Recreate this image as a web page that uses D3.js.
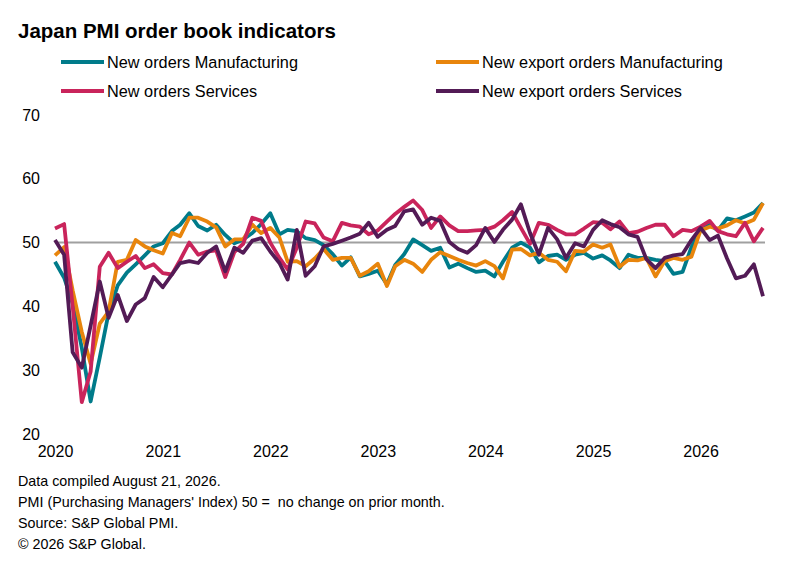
<!DOCTYPE html>
<html>
<head>
<meta charset="utf-8">
<script src="https://cdn.jsdelivr.net/npm/d3@7"></script>
<style>
  body { margin: 0; background: #fff; }
  text { font-family: "Liberation Sans", Arial, sans-serif; fill: #000; }
</style>
</head>
<body>
<div id="chart"></div>
<script>
// Monthly readings, Jan 2020 - Aug 2026
var newOrdersMfg = [
  47.0, 44.5, 40.5, 33.5, 25.1, 32.0, 39.0, 43.3, 45.3, 46.6, 48.0, 49.4,
  49.9, 51.8, 52.8, 54.6, 52.6, 51.9, 52.8, 51.2, 49.9, 50.5, 51.5, 52.9,
  54.6, 51.3, 52.0, 51.8, 50.7, 50.4, 49.6, 48.2, 46.4, 47.7, 44.7, 45.1,
  45.6, 43.5, 46.5, 48.2, 50.5, 49.6, 48.7, 49.2, 46.1, 46.7, 46.0, 45.4,
  45.6, 44.7, 47.0, 49.2, 50.0, 49.2, 46.9, 47.9, 48.1, 47.3, 48.1, 48.4,
  47.5, 48.0, 47.2, 46.0, 48.1, 47.6, 47.6, 47.3, 47.1, 45.1, 45.4, 49.3,
  52.0, 52.8, 51.9, 53.8, 53.5, 54.1, 54.7, 56.2
];
var newExportOrdersMfg = [
  48.0, 49.3, 42.5, 36.0, 31.0, 37.3, 39.2, 47.0, 47.3, 50.4, 49.4, 48.8,
  48.3, 51.5, 51.0, 53.9, 53.9, 53.3, 52.4, 49.4, 50.5, 50.5, 52.8, 51.5,
  52.3, 50.8, 47.0, 47.1, 46.3, 47.5, 49.0, 47.3, 47.6, 47.6, 44.8, 45.5,
  46.7, 43.2, 46.3, 47.3, 46.7, 45.4, 47.3, 48.5, 47.9, 47.3, 46.8, 46.4,
  47.1, 46.3, 44.4, 48.9, 49.0, 48.0, 48.4, 47.3, 47.0, 45.5, 48.7, 48.6,
  49.7, 49.2, 49.7, 46.2, 47.3, 47.2, 47.6, 44.7, 47.1, 47.6, 47.3, 47.8,
  51.9, 52.5, 52.2, 52.7, 53.5, 53.0, 53.6, 56.2
];
var newOrdersSvc = [
  52.2, 52.9, 40.0, 25.0, 29.8, 46.2, 48.4, 46.0, 47.0, 47.9, 46.0, 46.6,
  45.2, 45.0, 47.3, 50.0, 48.1, 48.6, 48.8, 44.6, 48.5, 49.8, 53.9, 53.4,
  50.0, 47.6, 45.8, 49.2, 53.3, 53.0, 50.8, 50.2, 53.1, 52.7, 52.5, 51.3,
  51.9, 53.3, 54.5, 55.6, 56.6, 55.1, 52.3, 54.1, 52.7, 51.8, 51.8, 51.9,
  52.0, 52.5, 53.5, 54.8, 52.3, 49.8, 53.1, 52.8, 52.0, 51.3, 51.3, 52.2,
  53.2, 53.1, 52.1, 53.3, 51.5, 51.7, 52.3, 52.8, 52.8, 51.0, 52.0, 51.8,
  52.5, 53.4, 51.8, 51.3, 51.0, 53.1, 50.2, 52.3
];
var newExportOrdersSvc = [
  50.4, 48.1, 32.8, 30.4, 37.0, 43.9, 38.2, 41.8, 37.7, 40.3, 41.3, 44.6,
  43.0, 45.0, 46.8, 47.1, 46.8, 48.4, 49.4, 45.5, 49.2, 48.4, 50.3, 50.7,
  48.6, 46.8, 44.2, 52.0, 44.8, 46.3, 49.4, 49.8, 50.3, 50.8, 51.4, 53.1,
  50.9, 52.0, 52.6, 54.9, 55.2, 52.8, 53.9, 53.4, 50.1, 49.0, 48.4, 49.6,
  52.3, 50.1, 52.0, 53.6, 56.0, 51.5, 48.1, 52.3, 50.5, 47.6, 49.9, 49.4,
  52.0, 53.5, 52.9, 52.4, 51.3, 50.9, 47.4, 46.0, 47.6, 48.0, 48.2, 50.4,
  52.3, 50.4, 51.1, 47.5, 44.4, 44.8, 46.6, 41.6
];

var seriesNames = [
  "New orders Manufacturing",
  "New export orders Manufacturing",
  "New orders Services",
  "New export orders Services"
];
var seriesColors = ["#007b8a", "#e8850c", "#c9245b", "#531b56"];
var seriesValues = [newOrdersMfg, newExportOrdersMfg, newOrdersSvc, newExportOrdersSvc];

var yTicks = [20, 30, 40, 50, 60, 70];
var footnotes = [
  "Data compiled August 21, 2026.",
  "PMI (Purchasing Managers' Index) 50 =  no change on prior month.",
  "Source: S&P Global PMI.",
  "\u00a9 2026 S&P Global."
];

var months = d3.timeMonth.range(new Date(2020, 0, 1), new Date(2026, 8, 1));

var width = 807, height = 580;

var svg = d3.select("#chart")
    .append("svg")
    .attr("width", width)
    .attr("height", height);

// Title
svg.append("text")
    .attr("x", 18)
    .attr("y", 38)
    .style("font-size", "20.5px")
    .style("font-weight", "bold")
    .text("Japan PMI order book indicators");

// Legend, two columns
var legend = svg.append("g");
seriesNames.forEach(function(name, i) {
    var lx = i % 2 === 0 ? 61 : 436;
    var ly = i < 2 ? 62 : 91;
    legend.append("line")
        .attr("x1", lx).attr("x2", lx + 43)
        .attr("y1", ly).attr("y2", ly)
        .style("stroke", seriesColors[i])
        .style("stroke-width", 4);
    legend.append("text")
        .attr("x", lx + 46)
        .attr("y", ly + 6)
        .style("font-size", "16.3px")
        .text(name);
});

var x = d3.scaleTime()
    .domain([months[0], months[months.length - 1]])
    .range([55, 763]);

var y = d3.scaleLinear()
    .domain([20, 70])
    .range([434, 115]);

// Y axis labels
svg.append("g")
    .attr("transform", "translate(42,0)")
    .call(d3.axisLeft(y).tickValues(yTicks).tickSize(0).tickPadding(2))
    .call(function(g) { g.select(".domain").remove(); })
    .selectAll("text")
    .style("font-size", "16px")
    .style("font-family", '"Liberation Sans", Arial, sans-serif')
    .attr("fill", "#000");

// X axis labels
svg.append("g")
    .attr("transform", "translate(0,440)")
    .call(d3.axisBottom(x).ticks(d3.timeYear.every(1)).tickFormat(d3.timeFormat("%Y")).tickSize(0).tickPadding(6))
    .call(function(g) { g.select(".domain").remove(); })
    .selectAll("text")
    .style("font-size", "16px")
    .style("font-family", '"Liberation Sans", Arial, sans-serif')
    .attr("fill", "#000");

// 50 = no change line
svg.append("line")
    .attr("x1", 55).attr("x2", 765)
    .attr("y1", y(50)).attr("y2", y(50))
    .style("stroke", "#a0a0a0")
    .style("stroke-width", 2);

var line = d3.line()
    .x(function(d, i) { return x(months[i]); })
    .y(function(d) { return y(d); });

svg.append("g")
    .selectAll("path")
    .data(seriesValues)
    .enter()
    .append("path")
    .attr("d", line)
    .style("fill", "none")
    .style("stroke", function(d, i) { return seriesColors[i]; })
    .style("stroke-width", 3.8)
    .style("stroke-linejoin", "round");

// Footnotes
svg.append("g")
    .selectAll("text")
    .data(footnotes)
    .enter()
    .append("text")
    .attr("x", 18)
    .attr("y", function(d, i) { return 486 + i * 21; })
    .attr("xml:space", "preserve")
    .style("white-space", "pre")
    .style("font-size", "14.3px")
    .text(function(d) { return d; });
</script>
</body>
</html>
